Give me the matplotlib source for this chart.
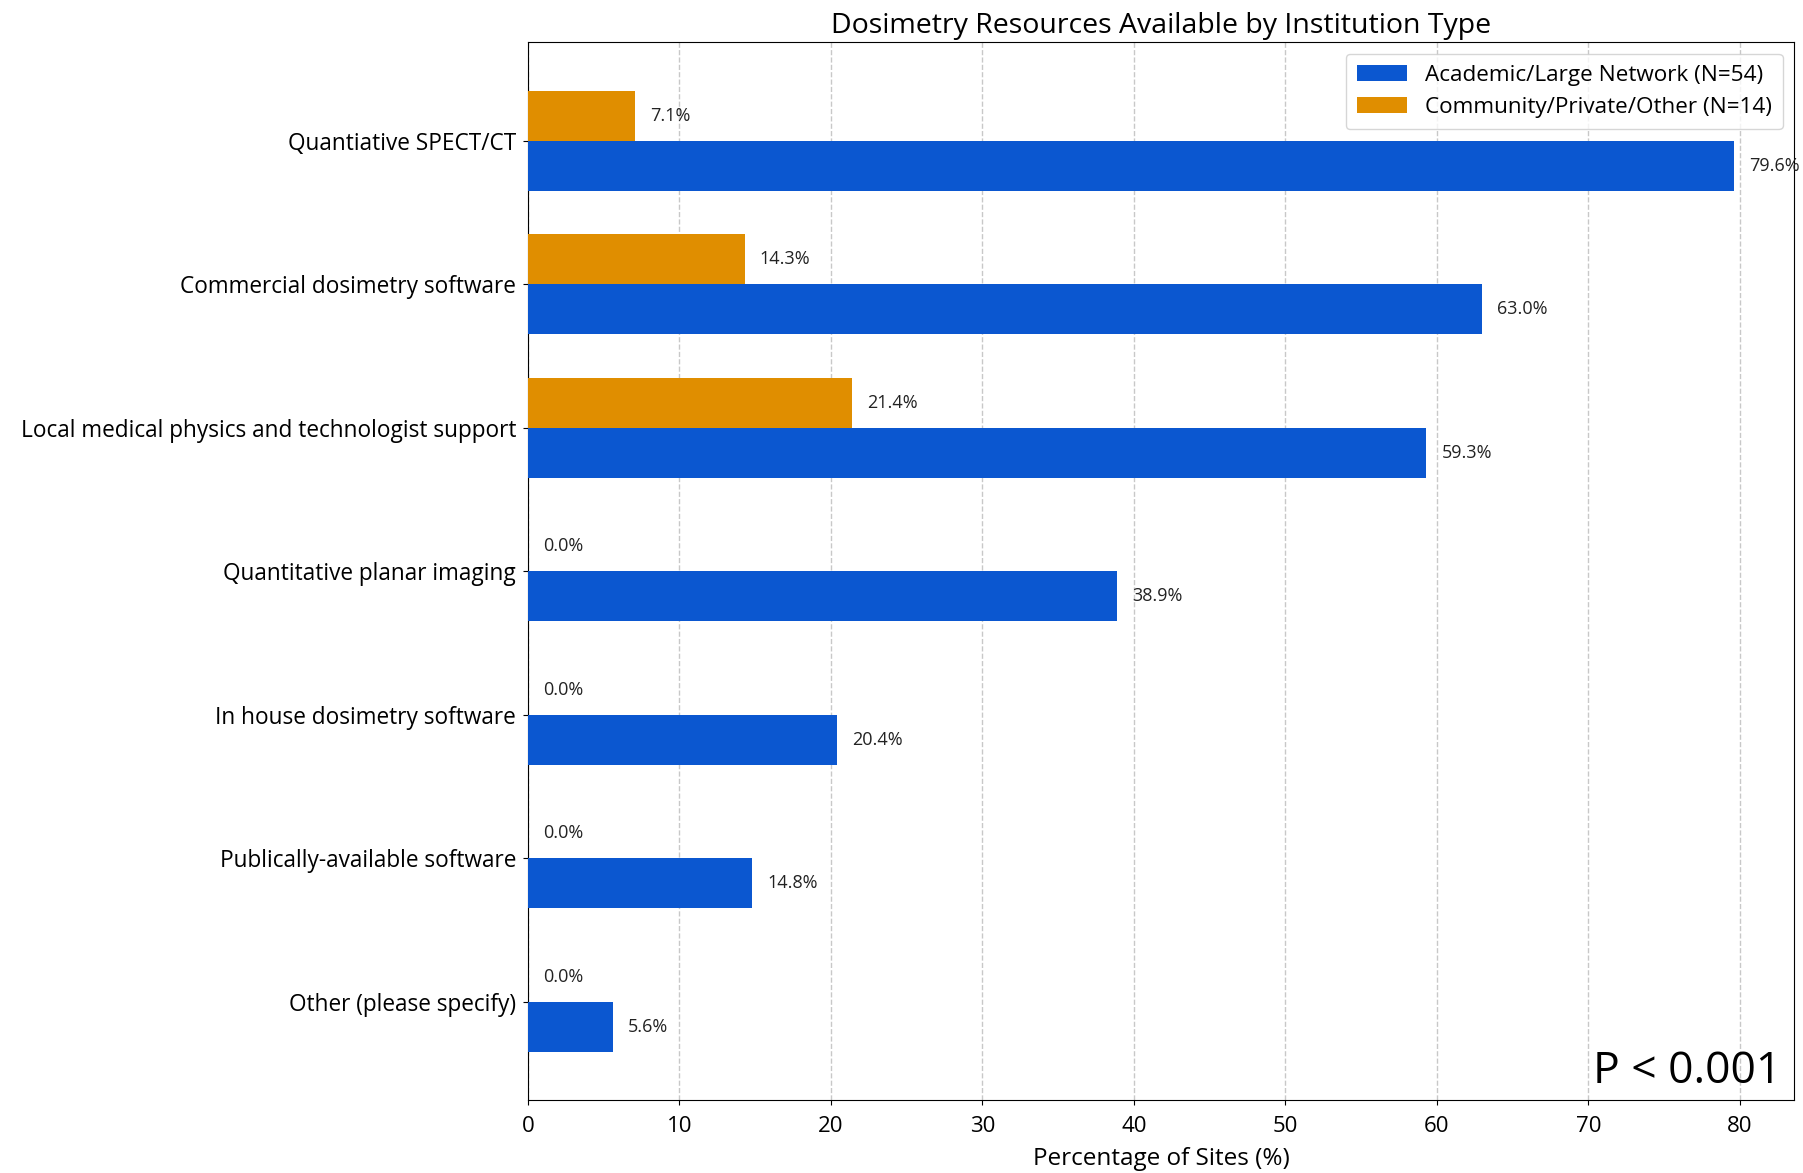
import matplotlib
matplotlib.use("Agg")
import matplotlib.pyplot as plt
import numpy as np

plt.rcParams['font.family'] = ['Open Sans', 'DejaVu Sans']

categories = [
    "Quantiative SPECT/CT",
    "Commercial dosimetry software",
    "Local medical physics and technologist support",
    "Quantitative planar imaging",
    "In house dosimetry software",
    "Publically-available software",
    "Other (please specify)",
]
academic = [79.6, 63.0, 59.3, 38.9, 20.4, 14.8, 5.6]
community = [7.1, 14.3, 21.4, 0.0, 0.0, 0.0, 0.0]
series_labels = ["Academic/Large Network (N=54)", "Community/Private/Other (N=14)"]
x_ticks = [0, 10, 20, 30, 40, 50, 60, 70, 80]

blue = '#0B57D0'
orange = '#E08E00'

fig = plt.figure(figsize=(18.03, 11.73), dpi=100)
ax = fig.add_axes([0.2928, 0.0622, 0.7022, 0.9016])

y = np.arange(len(categories))
h = 0.35
b1 = ax.barh(y + h / 2, academic, height=h, color=blue, label=series_labels[0], zorder=3)
b2 = ax.barh(y - h / 2, community, height=h, color=orange, label=series_labels[1], zorder=3)

for bars, vals in ((b1, academic), (b2, community)):
    for bar, v in zip(bars, vals):
        ax.text(v + 1.0, bar.get_y() + bar.get_height() / 2, f"{v:.1f}%",
                va='center', ha='left', fontsize=13, color='#222222')

ax.set_yticks(y)
ax.set_yticklabels(categories, fontsize=16.3)
ax.tick_params(axis='y', pad=5)
ax.invert_yaxis()
ax.set_xticks(x_ticks)
ax.tick_params(axis='x', labelsize=16, pad=8)
ax.set_xlim(0, max(academic) * 1.05)
ax.grid(axis='x', linestyle='--', color='#c8c8c8', linewidth=1.0, zorder=0)
ax.set_xlabel("Percentage of Sites (%)", fontsize=17.5, labelpad=7)
ax.set_title("Dosimetry Resources Available by Institution Type", fontsize=20.5, pad=7)

leg = ax.legend(loc='upper right', fontsize=16.2, handlelength=2.2, borderpad=0.5,
                labelspacing=0.5)

ax.text(0.99, 0.006, "P < 0.001", transform=ax.transAxes, ha='right', va='bottom',
        fontsize=32, family=['Open Sans', 'DejaVu Sans'])

fig.savefig("out.png", dpi=100)
